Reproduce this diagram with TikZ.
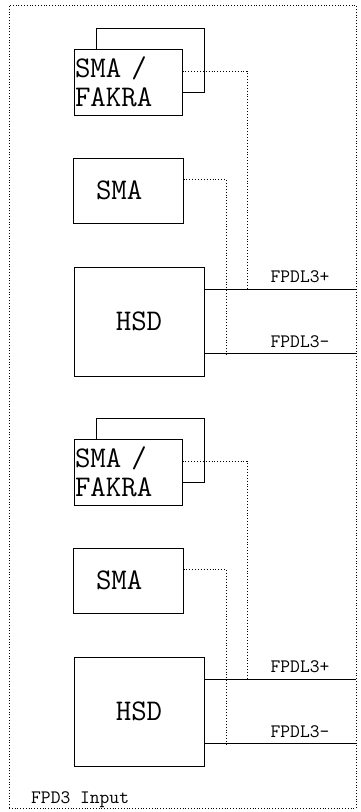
\documentclass[tikz,border=0pt]{standalone}
\usetikzlibrary{positioning}

\begin{document}
\begin{tikzpicture}[
        x=1pt, y=-1pt,
        box/.style={draw, line width=1pt, fill=white, inner sep=1pt, font=\ttfamily\fontsize{30}{29}\selectfont},
        fakra/.style={box, minimum width=108pt, minimum height=66pt, text width=106pt, align=left},
        sma/.style={box, minimum width=110pt, minimum height=65pt, inner xsep=23pt, text width=64pt, align=left},
        hsd/.style={box, minimum width=130pt, minimum height=109pt},
        sig/.style={font=\ttfamily\fontsize{19}{19}\selectfont, inner sep=0pt},
        wire/.style={line width=1pt},
        link/.style={dotted, line width=0.9pt}
    ]
    \useasboundingbox (0,0) rectangle (360,812);
    \node[draw, dotted, line width=0.8pt, minimum width=347pt, minimum height=803pt, inner sep=0pt] (frame) at (182.5,406.5) {};
    \node[sig, anchor=base west] (title) at (31,803) {FPD3 Input};

    % upper group
    \node[draw, line width=1pt, minimum width=108pt, minimum height=64pt] (fakraB1) at (150,60) {};
    \node[fakra] (fakra1) at (128,82) {SMA /\\FAKRA};
    \node[sma] (sma1) at (128,190.5) {SMA};
    \node[hsd] (hsd1) at (139,321.5) {HSD};

    \coordinate (p1) at (356,289);
    \coordinate (n1) at (356,353);
    \coordinate (tp1) at (247,289);
    \coordinate (tn1) at (226,355);
    \node[sig, anchor=base] (lp1) at (300,282) {FPDL3+};
    \node[sig, anchor=base] (ln1) at (300,347) {FPDL3-};

    \draw[wire] (hsd1.east |- p1) -- (p1);
    \draw[wire] (hsd1.east |- n1) -- (n1);
    \draw[link] ([yshift=11pt]fakra1.east) -| (tp1);
    \draw[link] ([yshift=11.5pt]sma1.east) -| (tn1);

    % lower group
    \node[draw, line width=1pt, minimum width=108pt, minimum height=64pt] (fakraB2) at (150,450) {};
    \node[fakra] (fakra2) at (128,472) {SMA /\\FAKRA};
    \node[sma] (sma2) at (128,580.5) {SMA};
    \node[hsd] (hsd2) at (139,711.5) {HSD};

    \coordinate (p2) at (356,679);
    \coordinate (n2) at (356,743);
    \coordinate (tp2) at (247,679);
    \coordinate (tn2) at (226,745);
    \node[sig, anchor=base] (lp2) at (300,672) {FPDL3+};
    \node[sig, anchor=base] (ln2) at (300,737) {FPDL3-};

    \draw[wire] (hsd2.east |- p2) -- (p2);
    \draw[wire] (hsd2.east |- n2) -- (n2);
    \draw[link] ([yshift=11pt]fakra2.east) -| (tp2);
    \draw[link] ([yshift=11.5pt]sma2.east) -| (tn2);
\end{tikzpicture}
\end{document}
